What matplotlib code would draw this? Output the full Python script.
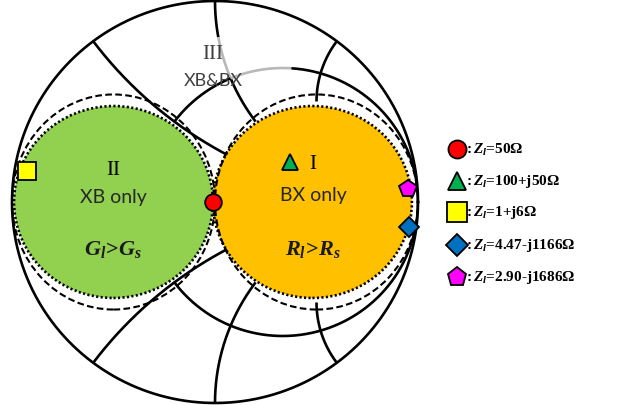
import numpy as np
import matplotlib.pyplot as plt
from matplotlib.patches import Ellipse

plt.rcParams['mathtext.fontset'] = 'custom'
plt.rcParams['mathtext.rm'] = 'Liberation Serif:bold'
plt.rcParams['mathtext.it'] = 'Liberation Serif:italic:bold'
plt.rcParams['mathtext.bf'] = 'Liberation Serif:bold'

# smith chart grid that is shown
x_arcs = [0.5, 1.0, 2.0, -0.5, -1.0, -2.0]   # drawn from r=0 to r=1
r_circle = 0.5                               # drawn outside the g=1 circle

# load points (reflection coefficient)
load_labels = ['50Ω', '100+j50Ω', '1+j6Ω', '4.47-j1166Ω', '2.90-j1686Ω']
load_re = [-0.01, 0.37, -0.926, 0.956, 0.951]
load_im = [0.0, 0.197, 0.153, -0.123, 0.064]
load_markers = ['o', '^', 's', 'D', 'p']
load_sizes = [12, 12, 13, 10, 13]
load_colors = ['#ff0000', '#00b050', '#ffff00', '#0070c0', '#ff00ff']

# regions
region_num = ['I', 'II', 'III']
region_text = ['BX only', 'XB only', 'XB&BX']
region_cond = [r'$R_l\!>\!R_s$', r'$G_l\!>\!G_s$', '']

LW = 1.9


def gamma(z):
    return (z - 1) / (z + 1)


def x_arc(ax, x, r0, r1, color='black'):
    g = gamma(np.linspace(r0, r1, 200) + 1j * x)
    ax.plot(g.real, g.imag, color=color, lw=LW, zorder=4, solid_capstyle='butt')


def r_arc(ax, r, x0, x1, color='black'):
    t = np.linspace(np.arctan(x0), np.arctan(x1), 300)
    g = gamma(r + 1j * np.tan(t))
    ax.plot(g.real, g.imag, color=color, lw=LW, zorder=4, solid_capstyle='butt')


fig = plt.figure(figsize=(6.35, 4.06), dpi=100)
ax = fig.add_axes([12 / 635, 0, 406 / 635, 1])
ax.set_xlim(-1, 1)
ax.set_ylim(-1.01, 1.01)
ax.axis('off')

# filled regions with dotted edges
green = Ellipse((-0.5, 0.0), 0.98, 0.955, facecolor='#92d050', edgecolor='none', zorder=1)
orange = Ellipse((0.48, 0.0), 0.98, 0.955, facecolor='#ffc000', edgecolor='none', zorder=1)
ax.add_patch(green)
ax.add_patch(orange)
for c in [(-0.5, 0.0), (0.48, 0.0)]:
    ax.add_patch(Ellipse(c, 0.98, 0.955, facecolor='none', edgecolor='black',
                         lw=1.9, linestyle=(0, (0.8, 0.9)), zorder=3))

# dashed g=1 and r=1 circles
for c in [(-0.5, 0.0), (0.5, 0.0)]:
    ax.add_patch(Ellipse(c, 1.0, 1.07, facecolor='none', edgecolor='black',
                         lw=1.5, linestyle=(0, (3.2, 1.6)), zorder=2))

# outer circle
th = np.linspace(0, 2 * np.pi, 400)
ax.plot(np.cos(th), np.sin(th), color='black', lw=LW, zorder=4, clip_on=False)

# reactance arcs
for x in x_arcs:
    if x == 1.0:
        x_arc(ax, x, 0, 0.2)
        x_arc(ax, x, 0.2, 0.5, color='#b8b8b8')
        x_arc(ax, x, 0.5, 1.0)
    else:
        x_arc(ax, x, 0, 1.0)

# resistance circle
r_arc(ax, r_circle, 0.5, 1.0)
r_arc(ax, r_circle, 1.0, 1.6, color='#b8b8b8')
r_arc(ax, r_circle, 1.6, 1e4)
r_arc(ax, r_circle, -0.5, -1e4)

# region labels
serif = 'Liberation Serif'
sans = 'Lato'
ax.text(0.483, 0.19, region_num[0], fontsize=15, family=serif, ha='center', va='center', zorder=5)
ax.text(0.483, 0.035, region_text[0], fontsize=14, family=sans, ha='center', va='center',
        color='#262626', zorder=5)
ax.text(0.483, -0.23, region_cond[0], fontsize=16, ha='center', va='center', color='#1a1a1a', zorder=5)
ax.text(-0.502, 0.16, region_num[1], fontsize=15, family=serif, ha='center', va='center', zorder=5)
ax.text(-0.502, 0.025, region_text[1], fontsize=14, family=sans, ha='center', va='center',
        color='#262626', zorder=5)
ax.text(-0.502, -0.23, region_cond[1], fontsize=16, ha='center', va='center', color='#1a1a1a', zorder=5)
ax.text(-0.01, 0.74, region_num[2], fontsize=15, family=serif, ha='center', va='center',
        color='#404040', zorder=5)
ax.text(-0.01, 0.605, region_text[2], fontsize=13, family=sans, ha='center', va='center',
        color='#404040', zorder=5)

# load points
for re, im, m, s, c in zip(load_re, load_im, load_markers, load_sizes, load_colors):
    ax.plot(re, im, marker=m, ms=s, mfc=c, mec='black', mew=1.3, zorder=6, clip_on=False)

# legend on the right (pixel coordinates)
lax = fig.add_axes([0, 0, 1, 1])
lax.set_xlim(0, 635)
lax.set_ylim(406, 0)
lax.axis('off')
row_y = [150, 182, 213, 246, 278]
for y, lab, m, s, c in zip(row_y, load_labels, load_markers, load_sizes, load_colors):
    lax.plot(457, y, marker=m, ms=s + 1, mfc=c, mec='black', mew=1.3)
    lax.text(466, y, ':$\\,Z_l$=' + lab, fontsize=11, family=serif, weight='bold',
             ha='left', va='center')

fig.savefig('out.png', dpi=100)
